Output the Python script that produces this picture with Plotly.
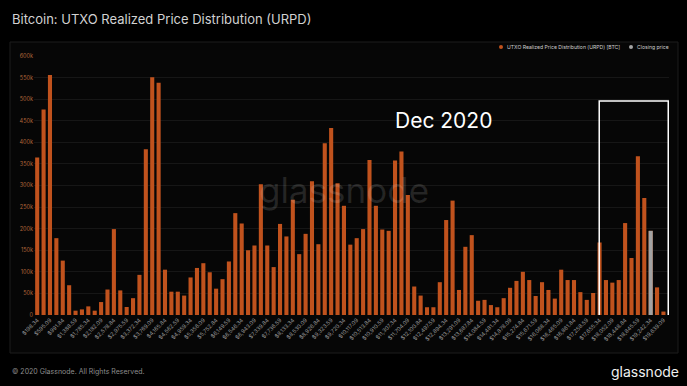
import plotly.graph_objects as go

# Price bins (USD) for each bar
price_bins = [
    198.34, 396.72, 595.09, 793.47, 991.84, 1190.22, 1388.59, 1586.97, 1785.34, 1983.72,
    2182.09, 2380.47, 2578.84, 2777.22, 2975.59, 3173.97, 3372.34, 3570.72, 3769.09, 3967.47,
    4165.84, 4364.22, 4562.59, 4760.97, 4959.34, 5157.72, 5356.09, 5554.47, 5752.84, 5951.22,
    6149.59, 6347.97, 6546.34, 6744.72, 6943.09, 7141.47, 7339.84, 7538.22, 7736.59, 7934.97,
    8133.34, 8331.72, 8530.09, 8728.47, 8926.84, 9125.22, 9323.59, 9521.97, 9720.34, 9918.72,
    10117.09, 10315.47, 10513.84, 10712.22, 10910.59, 11108.97, 11307.34, 11505.72, 11704.09, 11902.47,
    12100.84, 12299.22, 12497.59, 12695.97, 12894.34, 13092.72, 13291.09, 13489.47, 13687.84, 13886.22,
    14084.59, 14282.97, 14481.34, 14679.72, 14878.09, 15076.47, 15274.84, 15473.22, 15671.59, 15869.97,
    16068.34, 16266.72, 16465.09, 16663.47, 16861.84, 17060.22, 17258.59, 17456.97, 17655.34, 17853.72,
    18052.09, 18250.47, 18448.84, 18647.22, 18845.59, 19043.97, 19242.34, 19440.72, 19639.09,
]

# UTXO realized price distribution (BTC)
urpd_btc = [
    365000, 476000, 556000, 178000, 126000, 69000, 10000, 13000, 20000, 10000,
    30000, 59000, 199000, 57000, 18500, 39000, 93000, 384000, 551000, 538000,
    105000, 54000, 54000, 45000, 87000, 109000, 120000, 99000, 61000, 83000,
    124000, 236000, 212000, 150000, 161000, 303000, 161000, 111000, 211000, 182000,
    267000, 141000, 188000, 310000, 164000, 398000, 433000, 305000, 253000, 163000,
    178000, 199000, 359000, 253000, 198000, 195000, 358000, 379000, 278000, 66000,
    45000, 18000, 18000, 76000, 220000, 265000, 58000, 158000, 185000, 33000,
    35000, 23000, 18000, 39000, 63000, 79000, 100000, 81000, 44000, 76000,
    58000, 38000, 105000, 81000, 81000, 53000, 35000, 51000, 168000, 81000,
    75000, 81000, 213000, 132000, 368000, 271000, 195000, 64000, 8000,
]

closing_price_bin = 19242.34

y_tick_vals = [0, 50000, 100000, 150000, 200000, 250000, 300000, 350000, 400000, 450000, 500000, 550000, 600000]
y_tick_text = ["0", "50k", "100k", "150k", "200k", "250k", "300k", "350k", "400k", "450k", "500k", "550k", "600k"]

legend_names = ["UTXO Realized Price Distribution (URPD) [BTC]", "Closing price"]

categories = [f"${p:,.2f}" for p in price_bins]
x_tick_vals = categories[::2]
close_idx = price_bins.index(closing_price_bin)

ORANGE = "#c0521d"
GRAY = "#a3a3a3"
FONT = "Inter, sans-serif"

W, H = 687, 386
L, R, T, B = 34, 18, 56, 71
pw, ph = W - L - R, H - T - B


def px(x):
    return (x - L) / pw


def py(y):
    return (H - B - y) / ph


fig = go.Figure()
fig.add_trace(go.Bar(x=categories, y=urpd_btc, marker=dict(color=ORANGE, line=dict(width=0)),
                     showlegend=False, name=legend_names[0]))
fig.add_trace(go.Bar(x=[categories[close_idx]], y=[urpd_btc[close_idx]],
                     marker=dict(color=GRAY, line=dict(width=0)), showlegend=False, name=legend_names[1]))

shapes = [
    dict(type="rect", xref="paper", yref="paper", x0=px(10), x1=px(678), y0=py(353), y1=py(42),
         line=dict(color="#1c1c1c", width=1), fillcolor="#060606", layer="below"),
    dict(type="rect", xref="x", yref="y", x0=87.95, x1=98.75, y0=-4000, y1=496000,
         line=dict(color="#ffffff", width=1.5), fillcolor="rgba(0,0,0,0)", layer="above"),
    # legend markers
    dict(type="circle", xref="paper", yref="paper", x0=px(499), x1=px(503), y0=py(49), y1=py(45),
         line=dict(width=0), fillcolor=ORANGE),
    dict(type="circle", xref="paper", yref="paper", x0=px(629), x1=px(633), y0=py(49), y1=py(45),
         line=dict(width=0), fillcolor=GRAY),
]

annotations = [
    dict(text="glassnode", xref="paper", yref="paper", x=px(344), y=py(190), showarrow=False,
         font=dict(family=FONT, size=35, color="rgba(255,255,255,0.12)")),
    dict(text="Dec 2020", xref="paper", yref="paper", x=px(494), y=py(106), showarrow=False,
         font=dict(family=FONT, size=21, color="#ffffff")),
    dict(text="© 2020 Glassnode. All Rights Reserved.", xref="paper", yref="paper", x=px(10), y=py(371),
         xanchor="left", yanchor="middle", showarrow=False,
         font=dict(family=FONT, size=7, color="#8c8c8c")),
    dict(text="glassnode", xref="paper", yref="paper", x=px(681), y=py(371),
         xanchor="right", yanchor="middle", showarrow=False,
         font=dict(family=FONT, size=14, color="#f0f0f0")),
    dict(text=legend_names[0], xref="paper", yref="paper", x=px(505), y=py(47),
         xanchor="left", yanchor="middle", showarrow=False,
         font=dict(family=FONT, size=5.1, color="#cfcfcf")),
    dict(text=legend_names[1], xref="paper", yref="paper", x=px(635), y=py(47),
         xanchor="left", yanchor="middle", showarrow=False,
         font=dict(family=FONT, size=5.1, color="#cfcfcf")),
]

fig.update_layout(
    width=W, height=H,
    margin=dict(l=L, r=R, t=T, b=B),
    paper_bgcolor="#000000", plot_bgcolor="rgba(0,0,0,0)",
    barmode="overlay", bargap=0.36, showlegend=False,
    title=dict(text="Bitcoin: UTXO Realized Price Distribution (URPD)", x=12 / W, xanchor="left",
               y=1 - 19 / H, yanchor="middle", xref="container", yref="container",
               font=dict(family=FONT, size=13, color="#d2d2d2")),
    xaxis=dict(type="category", categoryorder="array", categoryarray=categories,
               tickmode="array", tickvals=x_tick_vals, tickangle=-45, automargin=False,
               tickfont=dict(family=FONT, size=5.5, color="#9a9a9a"),
               showgrid=False, zeroline=False, showline=False, ticks=""),
    yaxis=dict(range=[0, 600000], tickmode="array", tickvals=y_tick_vals, ticktext=y_tick_text,
               automargin=False,
               tickfont=dict(family=FONT, size=5.5, color="#b0653a"),
               showgrid=True, gridcolor="#161616", gridwidth=1, zeroline=False, showline=False,
               ticks=""),
    shapes=shapes,
    annotations=annotations,
)

fig.write_html(
    "out.html",
    config={"displayModeBar": False},
    post_script="document.body.style.margin='0';document.body.style.padding='0';"
                "document.body.style.background='#000';document.body.style.overflow='hidden';",
)
